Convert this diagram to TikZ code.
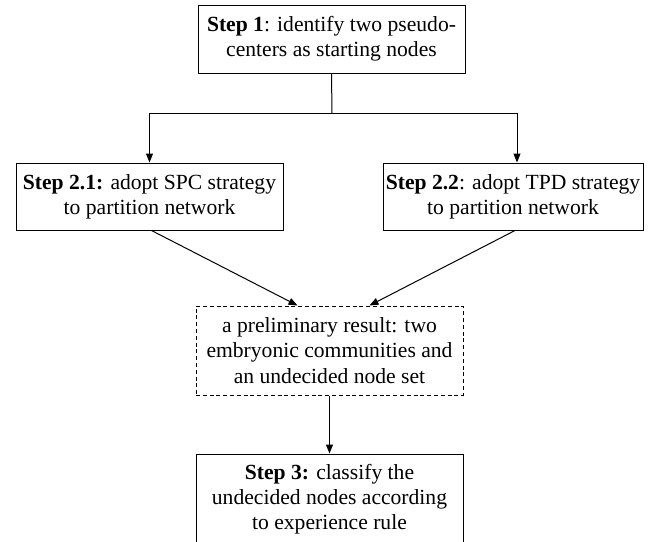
\documentclass[tikz,border=0pt]{standalone}
\usepackage{fontspec}
\setmainfont{Liberation Serif}
\usetikzlibrary{arrows.meta}
\tikzset{
  stepbox/.style={draw, line width=0.5pt, align=center, inner sep=0pt,
    minimum width=133.5pt, minimum height=34pt,
    font=\fontsize{10.8}{12.6}\selectfont},
  resultbox/.style={stepbox, dash pattern=on 2pt off 1.4pt, minimum height=44.5pt},
  flow/.style={line width=0.5pt, -{Triangle[length=4.5pt,width=3.5pt]}}
}
\begin{document}
\begin{tikzpicture}[x=0.5pt,y=-0.5pt]
\useasboundingbox (0,0) rectangle (655,542);
\node[stepbox] (step1) at (331.5,39) {\textbf{Step 1}: identify two pseudo-\\centers as starting nodes};
\node[stepbox, minimum height=33.5pt] (step21) at (149.5,196.5) {\textbf{Step 2.1:} adopt SPC strategy\\to partition network};
\node[stepbox, minimum height=33.5pt, minimum width=130pt] (step22) at (513,196.5) {\textbf{Step 2.2}: adopt TPD strategy\\to partition network};
\node[resultbox] (result) at (329.5,350.5) {a preliminary result: two\\embryonic communities and\\an undecided node set};
\node[stepbox, minimum height=45pt] (step3) at (329.5,499) {\textbf{Step 3:} classify the\\undecided nodes according\\to experience rule};
% connectors
\coordinate (split) at (332,113);
\draw[line width=0.5pt] (step1.south) -- (split);
\draw[flow] (split) -| (step21.north);
\draw[flow] (split) -| ([xshift=2pt]step22.north);
\draw[flow] ([xshift=1pt]step21.south) -- ([xshift=-16pt]result.north);
\draw[flow] ([xshift=1pt]step22.south) -- ([xshift=20pt]result.north);
\draw[flow] (result.south) -- (step3.north);
\end{tikzpicture}
\end{document}
